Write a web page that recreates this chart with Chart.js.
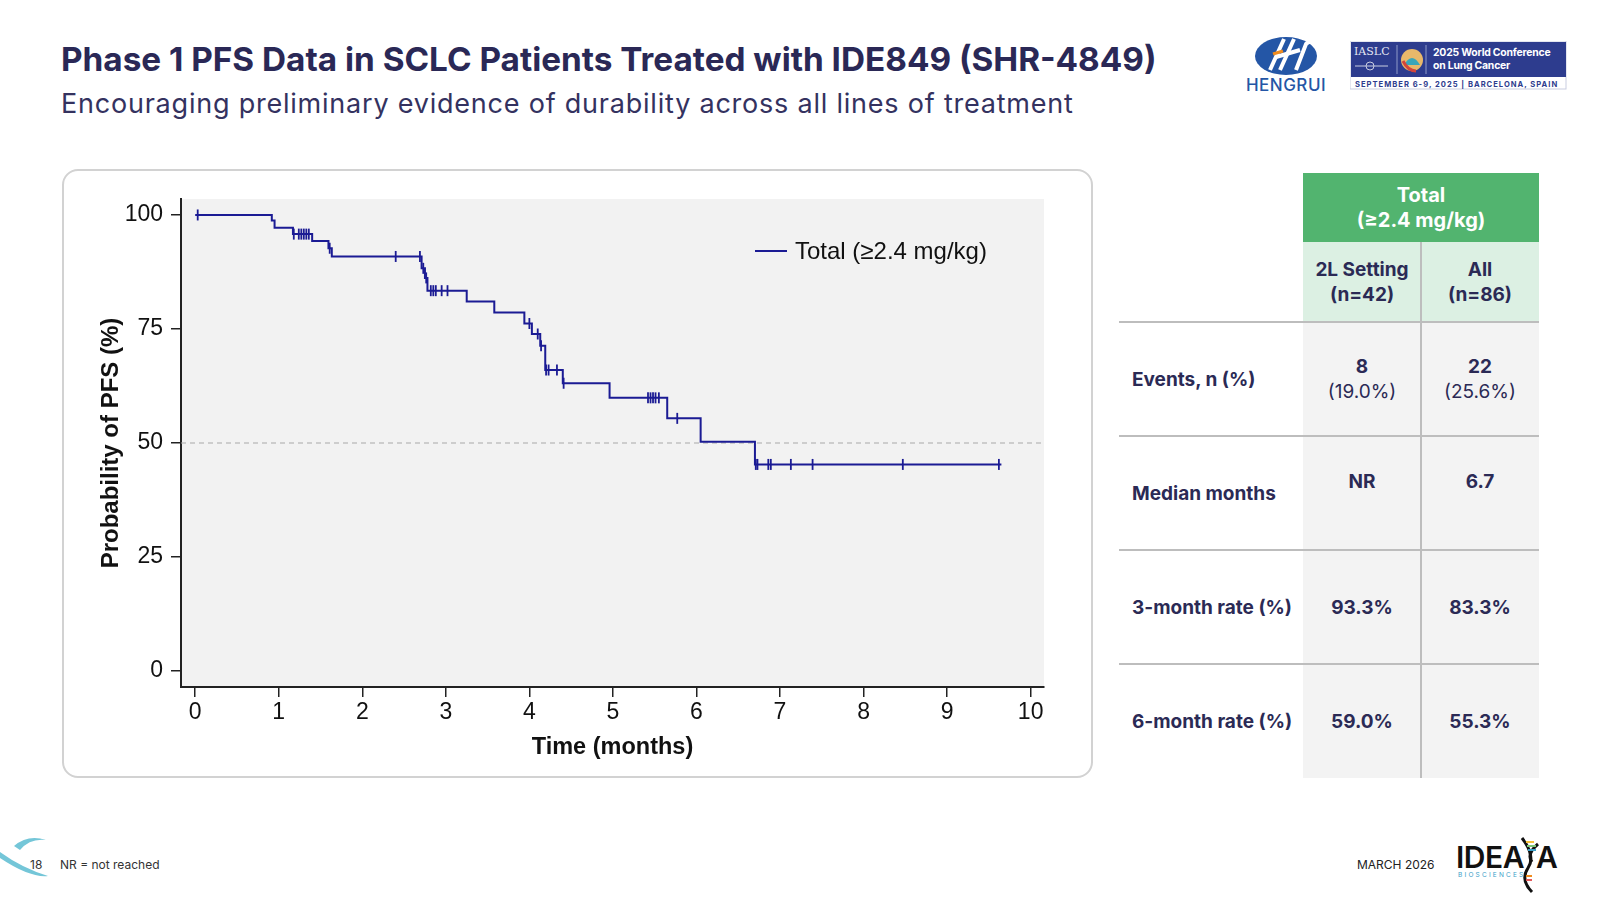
<!DOCTYPE html>
<html>
<head>
<meta charset="utf-8">
<script src="https://cdn.jsdelivr.net/npm/chart.js@4.4.1/dist/chart.umd.min.js"></script>
<style>
    body { margin: 0; width: 1600px; height: 900px; background: #fff; position: relative; overflow: hidden; font-family: Inter, "Noto Sans", sans-serif; }
    .abs { position: absolute; }
    #title { left: 61px; top: 39px; font-size: 33.3px; line-height: 40px; font-weight: 700; color: #2a2856; white-space: nowrap; }
    #subtitle { left: 61px; top: 88px; font-size: 27px; line-height: 32px; font-weight: 400; color: #34325f; white-space: nowrap; letter-spacing: 0.78px; }
    #card { left: 62px; top: 169px; width: 1031px; height: 609px; box-sizing: border-box; border: 2px solid #d2d2d2; border-radius: 16px; }
    #chartBox { left: 62px; top: 169px; width: 1031px; height: 609px; }
    #legend { left: 755px; top: 236px; height: 30px; display: flex; align-items: center; font-family: "Liberation Sans", Arial, sans-serif; font-size: 24px; color: #111; white-space: nowrap; }
    #legend span.swatch { display: inline-block; width: 32px; height: 2px; background: #1b1b94; margin-right: 8px; }
    .cell { position: absolute; display: flex; flex-direction: column; align-items: center; justify-content: center; text-align: center; color: #2b2a55; font-size: 19px; line-height: 25px; font-weight: 700; box-sizing: border-box; }
    .cell .sub { font-weight: 400; }
    .rowlabel { align-items: flex-start; padding-left: 13px; }
    .hline { position: absolute; height: 2px; background: #bdbdbd; }
    .vline { position: absolute; width: 2px; background: #bdbdbd; }
    .foot { font-size: 12px; color: #333; white-space: nowrap; }
</style>
</head>
<body>
<div id="title" class="abs">Phase 1 PFS Data in SCLC Patients Treated with IDE849 (SHR-4849)</div>
<div id="subtitle" class="abs">Encouraging preliminary evidence of durability across all lines of treatment</div>

<!-- HENGRUI logo -->
<svg class="abs" style="left:1240px;top:30px" width="95" height="66" viewBox="0 0 95 66">
    <ellipse cx="46" cy="26" rx="31" ry="19" fill="#2456a6"/>
    <path d="M30 40 L44 9 M40 40 L54 9" stroke="#fff" stroke-width="4"/>
    <path d="M36 27 L60 20" stroke="#fff" stroke-width="4"/>
    <path d="M56 40 L66 14 Q72 8 77 18" stroke="#fff" stroke-width="4" fill="none"/>
    <path d="M33 24 L43 21" stroke="#f08c1e" stroke-width="3"/>
    <text x="46" y="61" text-anchor="middle" font-family="Inter, sans-serif" font-size="17" font-weight="500" fill="#2456a6" letter-spacing="0.5">HENGRUI</text>
</svg>

<!-- WCLC banner -->
<svg class="abs" style="left:1350px;top:41px" width="218" height="50" viewBox="0 0 218 50">
    <rect x="0" y="0" width="216" height="48" fill="#fff" stroke="#c9cde0" stroke-width="1"/>
    <rect x="1" y="1" width="215" height="35" fill="#2d3c8e"/>
    <text x="4" y="14" font-family="'DejaVu Serif', serif" font-size="11" fill="#e4e6f2">IASLC</text>
    <path d="M5 25 L38 25" stroke="#c9cde0" stroke-width="1"/>
    <circle cx="20" cy="25" r="4" fill="none" stroke="#c9cde0" stroke-width="1"/>
    <path d="M47 4 L47 33 M76 4 L76 33" stroke="#8f9ac8" stroke-width="1"/>
    <circle cx="62" cy="19" r="11" fill="#e8b86a"/>
    <path d="M54 24 Q62 10 70 24 Z" fill="#3aa6b9"/>
    <path d="M53 20 Q58 30 66 30" stroke="#d1453b" stroke-width="3" fill="none"/>
    <text x="83" y="15" font-family="Inter, sans-serif" font-size="10.4" font-weight="700" fill="#fff" letter-spacing="-0.2">2025 World Conference</text>
    <text x="83" y="28" font-family="Inter, sans-serif" font-size="10.4" font-weight="700" fill="#fff" letter-spacing="-0.2">on Lung Cancer</text>
    <text x="5" y="45.5" font-family="Inter, sans-serif" font-size="7.6" font-weight="700" fill="#2d3c8e" letter-spacing="1">SEPTEMBER 6-9, 2025  |  BARCELONA, SPAIN</text>
</svg>

<div id="card" class="abs"></div>
<div id="chartBox" class="abs"><canvas id="pfsChart"></canvas></div>
<div id="legend" class="abs"><span class="swatch"></span>Total (≥2.4 mg/kg)</div>

<div id="table"></div>

<!-- footer -->
<svg class="abs" style="left:0;top:834px" width="60" height="48" viewBox="0 0 60 48">
    <path d="M0 18 Q22 34 48 42 Q30 44 0 24 Z" fill="#74c6d8"/>
    <path d="M14 12 Q28 0 46 6 Q30 4 20 16 Z" fill="#74c6d8"/>
</svg>
<div class="abs foot" style="left:30px;top:857px;">18</div>
<div class="abs foot" style="left:60px;top:857px;">NR = not reached</div>
<div class="abs foot" style="left:1357px;top:857px;color:#222;">MARCH 2026</div>
<svg class="abs" style="left:1450px;top:832px" width="110" height="64" viewBox="0 0 110 64">
    <text x="6" y="36" font-family="Inter, sans-serif" font-size="30" font-weight="600" fill="#111" letter-spacing="-0.5">IDEA</text>
    <text x="86" y="36" font-family="Inter, sans-serif" font-size="30" font-weight="600" fill="#111">A</text>
    <path d="M72 6 Q86 24 78 36 Q70 48 82 60" stroke="#111" stroke-width="3" fill="none"/>
    <path d="M88 12 Q76 22 82 30" stroke="#111" stroke-width="3" fill="none"/>
    <path d="M76 10 L84 10" stroke="#f5c13a" stroke-width="2"/>
    <path d="M77 14 L86 14" stroke="#7cc576" stroke-width="2"/>
    <path d="M78 18 L86 18" stroke="#3aa0c8" stroke-width="2"/>
    <path d="M76 44 L82 44" stroke="#f08c1e" stroke-width="2"/>
    <path d="M76 48 L82 48" stroke="#e25b5b" stroke-width="2"/>
    <text x="8" y="45" font-family="Inter, sans-serif" font-size="6.5" fill="#3aa0c8" letter-spacing="2.2">BIOSCIENCES</text>
</svg>

<script>
// Kaplan-Meier curve: event times (months) and PFS level after each step (%)
const eventTimes = [0, 0.917, 0.95, 1.17, 1.40, 1.595, 1.635, 2.71, 2.75, 2.78, 3.25, 3.58, 3.94, 4.03, 4.13, 4.19, 4.40, 4.96, 5.65, 6.05, 6.70, 9.65];
const survivalPct = [100, 98.8, 97.2, 95.8, 94.3, 92.7, 90.9, 88.3, 86.2, 83.4, 81.0, 78.6, 76.2, 73.9, 71.3, 66.0, 63.1, 59.9, 55.4, 50.3, 45.3, 45.3];

// censored patients (months)
const censorTimes = [0.03, 1.18, 1.24, 1.27, 1.30, 1.33, 1.36, 1.61, 2.40, 2.69, 2.73, 2.765,
    2.82, 2.85, 2.88, 2.95, 3.02, 4.00, 4.10, 4.14, 4.20, 4.23, 4.33, 4.41,
    5.42, 5.45, 5.48, 5.51, 5.55, 5.77, 6.71, 6.73, 6.86, 6.89, 7.13, 7.39, 8.47, 9.62];

const xTicks = [0, 1, 2, 3, 4, 5, 6, 7, 8, 9, 10];
const yTicks = [0, 25, 50, 75, 100];
const xRange = [-0.17, 10.16];
const yRange = [-3.5, 103.5];
const medianRef = 50;

// table
const rowLabels = ["Events, n (%)", "Median months", "3-month rate (%)", "6-month rate (%)"];
const col2L = ["8", "NR", "93.3%", "59.0%"];
const col2LSub = ["(19.0%)", "", "", ""];
const colAll = ["22", "6.7", "83.3%", "55.3%"];
const colAllSub = ["(25.6%)", "", "", ""];

function levelAt(t) {
    let lvl = survivalPct[0];
    for (let i = 0; i < eventTimes.length; i++) {
        if (eventTimes[i] <= t) lvl = survivalPct[i];
    }
    return lvl;
}

const navy = "#1b1b94";
const axisFont = "'Liberation Sans', Arial, sans-serif";

const plotBg = {
    id: "plotBg",
    beforeDraw(chart) {
        const a = chart.chartArea;
        const ctx = chart.ctx;
        ctx.save();
        ctx.fillStyle = "#f2f2f2";
        ctx.fillRect(a.left, a.top, a.right - a.left, a.bottom - a.top);
        ctx.restore();
    },
};

new Chart(document.getElementById("pfsChart").getContext("2d"), {
    type: "line",
    data: {
        datasets: [
            {
                label: "Total (≥2.4 mg/kg)",
                data: eventTimes.map((t, i) => ({ x: t, y: survivalPct[i] })),
                stepped: "before",
                borderColor: navy,
                borderWidth: 2,
                pointRadius: 0,
                fill: false,
            },
            {
                type: "scatter",
                label: "Censored",
                data: censorTimes.map((t) => ({ x: t, y: levelAt(t) })),
                pointStyle: "line",
                rotation: 90,
                radius: 5.5,
                borderColor: navy,
                borderWidth: 1.8,
                showLine: false,
            },
            {
                label: "Median",
                data: [{ x: xRange[0], y: medianRef }, { x: xRange[1], y: medianRef }],
                borderColor: "#a8a8a8",
                borderWidth: 1,
                borderDash: [5, 4],
                pointRadius: 0,
            },
        ],
    },
    options: {
        responsive: true,
        maintainAspectRatio: false,
        animation: false,
        layout: { padding: { left: 32, top: 30, right: 49, bottom: 15 } },
        plugins: {
            legend: { display: false },
            tooltip: { enabled: false },
        },
        scales: {
            x: {
                type: "linear",
                min: xRange[0],
                max: xRange[1],
                afterBuildTicks: (s) => { s.ticks = xTicks.map((v) => ({ value: v })); },
                afterFit: (s) => { s.height = 76; },
                grid: { drawOnChartArea: false, drawTicks: true, tickLength: 10, color: "#222", lineWidth: 1.5 },
                border: { display: true, color: "#222", width: 2 },
                ticks: { font: { family: axisFont, size: 23 }, color: "#111", padding: 2, maxRotation: 0, autoSkip: false },
                title: { display: true, text: "Time (months)", color: "#111", font: { family: axisFont, size: 23.5, weight: "bold" }, padding: { top: 0, bottom: 1 } },
            },
            y: {
                min: yRange[0],
                max: yRange[1],
                afterBuildTicks: (s) => { s.ticks = yTicks.map((v) => ({ value: v })); },
                afterFit: (s) => { s.width = 87; },
                grid: { drawOnChartArea: false, drawTicks: true, tickLength: 10, color: "#222", lineWidth: 1.5 },
                border: { display: true, color: "#222", width: 2 },
                ticks: { font: { family: axisFont, size: 23 }, color: "#111", padding: 8 },
                title: { display: true, text: "Probability of PFS (%)", color: "#111", font: { family: axisFont, size: 24, weight: "bold" }, padding: { top: 3, bottom: 0 } },
            },
        },
    },
    plugins: [plotBg],
});

// ---- summary table ----
const table = document.getElementById("table");
const colX = [1119, 1303, 1421, 1539];
const rowY = [322, 436, 550, 664, 778];

function addBox(cls, left, top, width, height, html, style) {
    const d = document.createElement("div");
    d.className = cls;
    d.style.left = left + "px";
    d.style.top = top + "px";
    d.style.width = width + "px";
    d.style.height = height + "px";
    if (style) Object.assign(d.style, style);
    d.innerHTML = html || "";
    table.appendChild(d);
    return d;
}

addBox("cell", colX[1], 173, colX[3] - colX[1], 69, "<div>Total</div><div>(≥2.4 mg/kg)</div>", { background: "#52b46f", color: "#fff", fontSize: "20px", lineHeight: "25px" });
addBox("cell", colX[1], 242, colX[2] - colX[1], 80, "<div>2L Setting</div><div>(n=42)</div>", { background: "#dcf0e3" });
addBox("cell", colX[2], 242, colX[3] - colX[2], 80, "<div>All</div><div>(n=86)</div>", { background: "#dcf0e3" });
addBox("abs", colX[1], rowY[0], colX[3] - colX[1], rowY[4] - rowY[0], "", { background: "#f3f3f3" });

rowLabels.forEach((lab, i) => {
    const top = rowY[i], h = rowY[i + 1] - rowY[i];
    addBox("cell rowlabel", colX[0], top, colX[1] - colX[0], h, lab);
    const pad = col2LSub[i] === "" && i === 1 ? { paddingBottom: "24px" } : null;
    addBox("cell", colX[1], top, colX[2] - colX[1], h,
        "<div>" + col2L[i] + "</div>" + (col2LSub[i] ? "<div class='sub'>" + col2LSub[i] + "</div>" : ""), pad);
    addBox("cell", colX[2], top, colX[3] - colX[2], h,
        "<div>" + colAll[i] + "</div>" + (colAllSub[i] ? "<div class='sub'>" + colAllSub[i] + "</div>" : ""), pad);
});

rowY.slice(0, 4).forEach((y) => addBox("hline", colX[0], y - 1, colX[3] - colX[0], 2, ""));
addBox("vline", colX[2] - 1, 242, 2, rowY[4] - 242, "");
</script>
</body>
</html>
